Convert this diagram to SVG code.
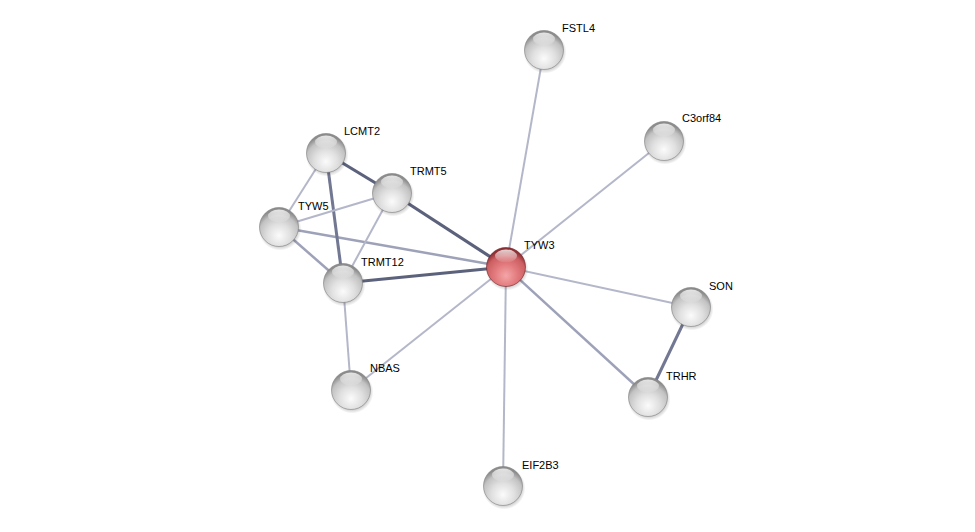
<svg xmlns="http://www.w3.org/2000/svg" width="975" height="532" viewBox="0 0 975 532">
<defs>
<radialGradient id="gw" cx="50%" cy="72%" r="65%">
<stop offset="0" stop-color="#fbfbfb"/>
<stop offset="0.45" stop-color="#e0e0e0"/>
<stop offset="0.8" stop-color="#c2c2c2"/>
<stop offset="1" stop-color="#8c8c8c"/>
</radialGradient>
<radialGradient id="gr" cx="50%" cy="72%" r="65%">
<stop offset="0" stop-color="#f4a6a8"/>
<stop offset="0.45" stop-color="#e27a7d"/>
<stop offset="0.8" stop-color="#cc5f62"/>
<stop offset="1" stop-color="#8e3034"/>
</radialGradient>
<linearGradient id="hl" x1="0" y1="0" x2="0" y2="1">
<stop offset="0" stop-color="#ffffff" stop-opacity="0.8"/>
<stop offset="1" stop-color="#ffffff" stop-opacity="0.05"/>
</linearGradient>
<radialGradient id="sh" cx="50%" cy="50%" r="50%">
<stop offset="0.75" stop-color="#000" stop-opacity="0.25"/>
<stop offset="1" stop-color="#000" stop-opacity="0"/>
</radialGradient>
<g id="ball">
<circle cx="1" cy="2" r="21.5" fill="url(#sh)"/>
<circle r="19.5" fill="url(#gw)" stroke="#808080" stroke-width="0.6"/>
<ellipse cx="0" cy="-11" rx="11" ry="6.5" fill="url(#hl)"/>
</g>
<g id="ballr">
<circle cx="1" cy="2" r="21.5" fill="url(#sh)"/>
<circle r="19.5" fill="url(#gr)" stroke="#6e2226" stroke-width="0.6"/>
<ellipse cx="0" cy="-11" rx="11" ry="6.5" fill="url(#hl)"/>
</g>
</defs>
<style>
.e{fill:none;stroke-linecap:butt}
.l{stroke:#b4b7c9;stroke-width:2}
.m{stroke:#9ea2b8;stroke-width:2.5}
.d{stroke:#5d627c;stroke-width:3.2}
.dm{stroke:#727792;stroke-width:3}
text{font-family:"Liberation Sans",Arial,sans-serif;font-size:11px;fill:#000}
</style>
<rect width="975" height="532" fill="#ffffff"/>
<g id="edges">
<line class="e l" x1="544" y1="50" x2="506" y2="267"/>
<line class="e l" x1="664" y1="141" x2="506" y2="267"/>
<line class="e l" x1="691" y1="307" x2="506" y2="267"/>
<line class="e m" x1="648" y1="397" x2="506" y2="267"/>
<line class="e l" x1="503" y1="486" x2="506" y2="267"/>
<line class="e l" x1="351" y1="390" x2="506" y2="267"/>
<line class="e m" x1="279" y1="227" x2="506" y2="267"/>
<line class="e d" x1="343" y1="283" x2="506" y2="267"/>
<line class="e d" x1="392" y1="193" x2="506" y2="267"/>
<line class="e d" x1="326" y1="153" x2="392" y2="193"/>
<line class="e dm" x1="326" y1="153" x2="343" y2="283"/>
<line class="e l" x1="326" y1="153" x2="279" y2="227"/>
<line class="e l" x1="279" y1="227" x2="392" y2="193"/>
<line class="e m" x1="279" y1="227" x2="343" y2="283"/>
<line class="e l" x1="392" y1="193" x2="343" y2="283"/>
<line class="e l" x1="343" y1="283" x2="351" y2="390"/>
<line class="e dm" x1="691" y1="307" x2="648" y2="397"/>
</g>
<g id="FSTL4"><use href="#ball" x="544" y="50"/><text x="562" y="32">FSTL4</text></g>
<g id="C3orf84"><use href="#ball" x="664" y="141"/><text x="682" y="122">C3orf84</text></g>
<g id="LCMT2"><use href="#ball" x="326" y="153"/><text x="344" y="135">LCMT2</text></g>
<g id="TRMT5"><use href="#ball" x="392" y="193"/><text x="410" y="175">TRMT5</text></g>
<g id="TYW5"><use href="#ball" x="279" y="227"/><text x="298" y="210">TYW5</text></g>
<g id="TRMT12"><use href="#ball" x="343" y="283"/><text x="361" y="266">TRMT12</text></g>
<g id="TYW3"><use href="#ballr" x="506" y="267"/><text x="524" y="249">TYW3</text></g>
<g id="SON"><use href="#ball" x="691" y="307"/><text x="709" y="290">SON</text></g>
<g id="NBAS"><use href="#ball" x="351" y="390"/><text x="370" y="372">NBAS</text></g>
<g id="TRHR"><use href="#ball" x="648" y="397"/><text x="666" y="380">TRHR</text></g>
<g id="EIF2B3"><use href="#ball" x="503" y="486"/><text x="522" y="469">EIF2B3</text></g>
</svg>
